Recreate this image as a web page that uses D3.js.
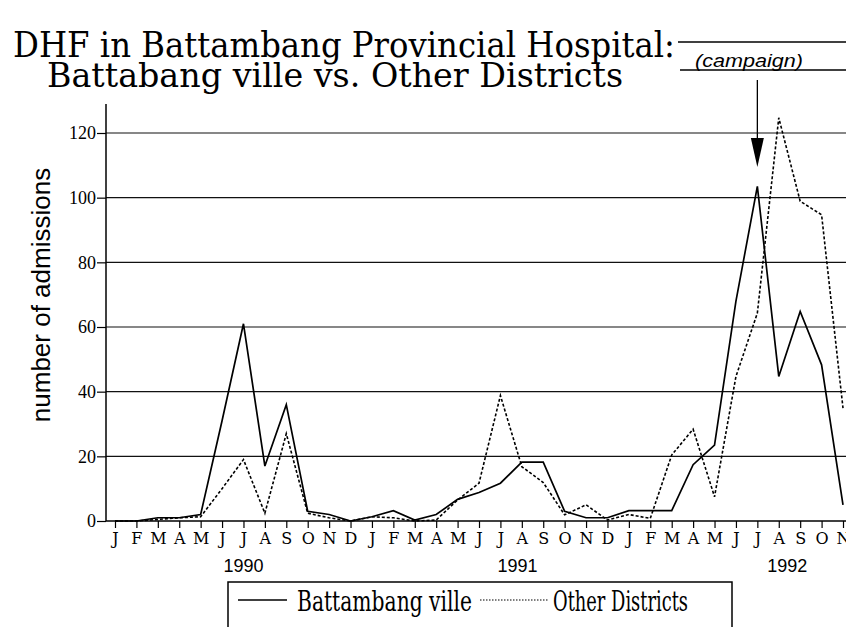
<!DOCTYPE html>
<html>
<head>
<meta charset="utf-8">
<script src="https://cdn.jsdelivr.net/npm/d3@7"></script>
<style>
  body { margin: 0; background: #fff; }
  svg { display: block; }
</style>
</head>
<body>
<svg id="svg"></svg>
<script>
// data
const monthLabels = [
  'J','F','M','A','M','J','J','A','S','O','N','D',
  'J','F','M','A','M','J','J','A','S','O','N','D',
  'J','F','M','A','M','J','J','A','S','O','N'
];
const years = ['1990', '1991', '1992'];
const yearAt = [6, 18.8, 31.4];   // month index under which each year sits
const yTicks = [0, 20, 40, 60, 80, 100, 120];

const ville = [
  0, 0, 1, 1, 2, 31, 61, 17, 36, 3, 2, 0,
  1.3, 3.2, 0.3, 2, 6.7, 8.8, 11.7, 18.2, 18.2, 3, 1, 1,
  3.2, 3.2, 3.2, 17.4, 23.5, 68, 103.5, 44.7, 64.8, 48.3, 5
];
const others = [
  0, 0, 0.5, 1, 1.3, 10, 19, 2.4, 27, 2.4, 1, 0,
  1.3, 1, 0, 0.3, 6.5, 11.7, 38.8, 16.8, 11.9, 1.9, 5, 0.3,
  2, 0.8, 20.4, 28.4, 7.5, 44.7, 64.3, 124.7, 98.9, 94.7, 34.9
];

const W = 846, H = 627;
const axisX = 106, plotRight = 846;
const serif = "'DejaVu Serif', serif";
const times = "'Liberation Serif', 'Times New Roman', serif";
const sans = "'Liberation Sans', Arial, sans-serif";

const svg = d3.select('#svg').attr('width', W).attr('height', H);

const x = d3.scaleLinear().domain([0, monthLabels.length - 1]).range([115, 843]);
const y = d3.scaleLinear().domain([0, 120]).range([521, 133]);

// title
svg.append('text')
  .attr('x', 13).attr('y', 57)
  .attr('font-family', serif).attr('font-size', 36)
  .attr('textLength', 662).attr('lengthAdjust', 'spacingAndGlyphs')
  .text('DHF in Battambang Provincial Hospital:');
svg.append('text')
  .attr('x', 47).attr('y', 87)
  .attr('font-family', serif).attr('font-size', 34)
  .attr('textLength', 576).attr('lengthAdjust', 'spacingAndGlyphs')
  .text('Battabang ville vs. Other Districts');

// campaign note + arrow
svg.append('line').attr('x1', 678).attr('x2', W).attr('y1', 42).attr('y2', 42)
  .attr('stroke', '#000').attr('stroke-width', 1.3);
svg.append('line').attr('x1', 680).attr('x2', W).attr('y1', 70).attr('y2', 70)
  .attr('stroke', '#000').attr('stroke-width', 1.3);
svg.append('text')
  .attr('x', 695).attr('y', 67)
  .attr('font-family', sans).attr('font-size', 18).attr('font-style', 'italic')
  .attr('textLength', 108).attr('lengthAdjust', 'spacingAndGlyphs')
  .text('(campaign)');
const ax = x(30);
svg.append('line').attr('x1', ax).attr('x2', ax).attr('y1', 80).attr('y2', 140)
  .attr('stroke', '#000').attr('stroke-width', 1.3);
svg.append('path')
  .attr('d', `M${ax - 6.5},138 L${ax + 6.5},138 L${ax},167 Z`)
  .attr('fill', '#000');

// gridlines
svg.append('g').selectAll('line')
  .data(yTicks.filter(d => d > 0)).join('line')
    .attr('x1', axisX).attr('x2', plotRight)
    .attr('y1', d => y(d)).attr('y2', d => y(d))
    .attr('stroke', '#111').attr('stroke-width', 1.2);

// y axis
const gy = svg.append('g')
  .attr('transform', `translate(${axisX},0)`)
  .call(d3.axisLeft(y).tickValues(yTicks).tickSize(9).tickPadding(1));
gy.select('.domain').remove();
gy.selectAll('line').attr('stroke', '#000').attr('stroke-width', 1.2);
gy.selectAll('text').attr('font-family', times).attr('font-size', 18).attr('fill', '#000');
svg.append('line').attr('x1', axisX).attr('x2', axisX).attr('y1', y(0)).attr('y2', y(129))
  .attr('stroke', '#000').attr('stroke-width', 1.5);

// x axis
const gx = svg.append('g')
  .attr('transform', `translate(0,${y(0)})`)
  .call(d3.axisBottom(x).tickValues(d3.range(monthLabels.length))
    .tickFormat(i => monthLabels[i]).tickSize(7).tickPadding(5));
gx.select('.domain').remove();
gx.selectAll('line').attr('stroke', '#000').attr('stroke-width', 1.2);
gx.selectAll('text').attr('font-family', serif).attr('font-size', 16).attr('fill', '#000');
svg.append('line').attr('x1', axisX).attr('x2', plotRight).attr('y1', y(0)).attr('y2', y(0))
  .attr('stroke', '#000').attr('stroke-width', 1.5);

svg.append('g').selectAll('text')
  .data(years).join('text')
    .attr('x', (d, i) => x(yearAt[i])).attr('y', 572)
    .attr('text-anchor', 'middle')
    .attr('font-family', sans).attr('font-size', 18)
    .text(d => d);

// y title
svg.append('text')
  .attr('transform', 'translate(50,295) rotate(-90)')
  .attr('text-anchor', 'middle')
  .attr('font-family', sans).attr('font-size', 26)
  .text('number of admissions');

// series
const line = d3.line().x((d, i) => x(i)).y(d => y(d));
svg.append('path').datum(others)
  .attr('d', line).attr('fill', 'none')
  .attr('stroke', '#000').attr('stroke-width', 1.6).attr('stroke-dasharray', '3,2');
svg.append('path').datum(ville)
  .attr('d', line).attr('fill', 'none')
  .attr('stroke', '#000').attr('stroke-width', 1.7);

// legend
svg.append('rect').attr('x', 228).attr('y', 582).attr('width', 504).attr('height', 80)
  .attr('fill', 'none').attr('stroke', '#000').attr('stroke-width', 1.5);
svg.append('line').attr('x1', 238).attr('x2', 287).attr('y1', 600).attr('y2', 600)
  .attr('stroke', '#000').attr('stroke-width', 1.5);
svg.append('text').attr('x', 297).attr('y', 611)
  .attr('font-family', serif).attr('font-size', 27)
  .attr('textLength', 175).attr('lengthAdjust', 'spacingAndGlyphs')
  .text('Battambang ville');
svg.append('line').attr('x1', 480).attr('x2', 548).attr('y1', 600).attr('y2', 600)
  .attr('stroke', '#000').attr('stroke-width', 1.2).attr('stroke-dasharray', '1.5,1.5');
svg.append('text').attr('x', 553).attr('y', 611)
  .attr('font-family', serif).attr('font-size', 27)
  .attr('textLength', 135).attr('lengthAdjust', 'spacingAndGlyphs')
  .text('Other Districts');
</script>
</body>
</html>
